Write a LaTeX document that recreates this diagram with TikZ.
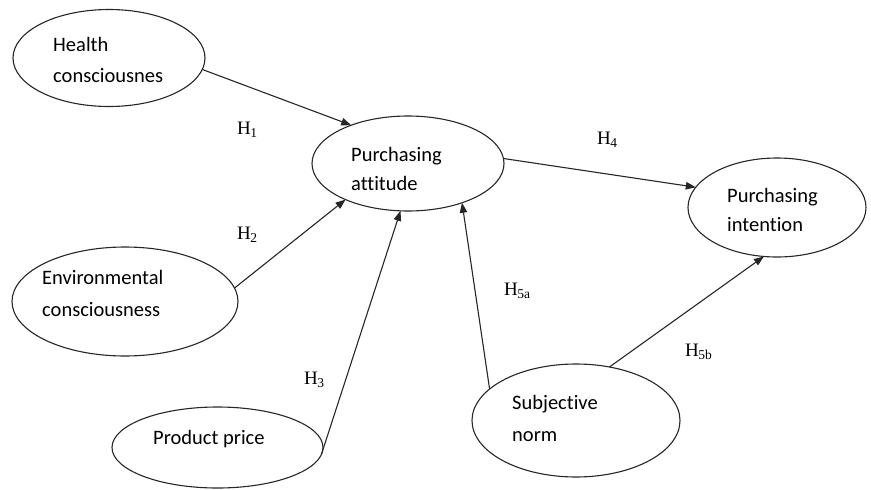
\documentclass[tikz,border=0pt]{standalone}
\usepackage{fontspec}
\setmainfont{Liberation Serif}
\newfontfamily\bodyfont[Ligatures=NoCommon]{Carlito}
\usetikzlibrary{arrows.meta,shapes.geometric}
% hypothesis label: H with a lowered index
\newcommand\hypname[1]{H\kern-0.5pt\raisebox{-3pt}{\fontsize{13.5}{13.5}\selectfont #1}}
\begin{document}
\begin{tikzpicture}[x=1pt,y=-1pt,
  construct/.style={draw=black!85, ellipse, line width=1.1pt, inner sep=0pt, outer sep=0pt},
  caption/.style={anchor=north west, align=left, inner sep=0pt,
    font=\bodyfont\fontsize{20.5}{#1}\selectfont},
  caption/.default=31,
  hyp/.style={anchor=base west, inner sep=0pt, font=\fontsize{19}{20}\selectfont},
  link/.style={draw=black!85, line width=1.1pt, -{Triangle[length=10pt,width=7.5pt]}}]
\useasboundingbox (0,0) rectangle (871,490);

% constructs
\node[construct, minimum width=192pt, minimum height=97pt]  (hc) at (109,58)    {};
\node[construct, minimum width=192pt, minimum height=95pt]  (pa) at (408,163.5) {};
\node[construct, minimum width=178pt, minimum height=99pt]  (pi) at (777,207.5) {};
\node[construct, minimum width=226pt, minimum height=109pt] (ec) at (125,301.5) {};
\node[construct, minimum width=211pt, minimum height=81pt]  (pp) at (217.5,447.5) {};
\node[construct, minimum width=208pt, minimum height=113pt] (sn) at (576,420.5) {};

% construct names
\node[caption=31]   (thc) at (53,37.5)   {Health\\consciousnes};
\node[caption=28.5] (tpa) at (351,147.5) {Purchasing\\attitude};
\node[caption=29]   (tpi) at (727,188.5) {Purchasing\\intention};
\node[caption=32]   (tec) at (42,270.5)  {Environmental\\consciousness};
\node[caption=32]   (tpp) at (153,430.5) {Product price};
\node[caption=32]   (tsn) at (512,395.5) {Subjective\\norm};

% hypothesised paths
\draw[link] (hc.-7)  -- (pa.146);
\draw[link] (ec.7)   -- (pa.210);
\draw[link] (pp.-4)  -- (pa.261);
\draw[link] (sn.160) -- (pa.-36);
\draw[link] (pa.3)   -- (pi.166);
\draw[link] (sn.58)  -- (pi.255);

% hypothesis labels
\node[hyp] (h1)  at (237,134) {\hypname{1}};
\node[hyp] (h2)  at (237,239) {\hypname{2}};
\node[hyp] (h3)  at (304,384) {\hypname{3}};
\node[hyp] (h4)  at (597,144) {\hypname{4}};
\node[hyp] (h5a) at (504,295) {\hypname{5a}};
\node[hyp] (h5b) at (685,356) {\hypname{5b}};
\end{tikzpicture}
\end{document}
